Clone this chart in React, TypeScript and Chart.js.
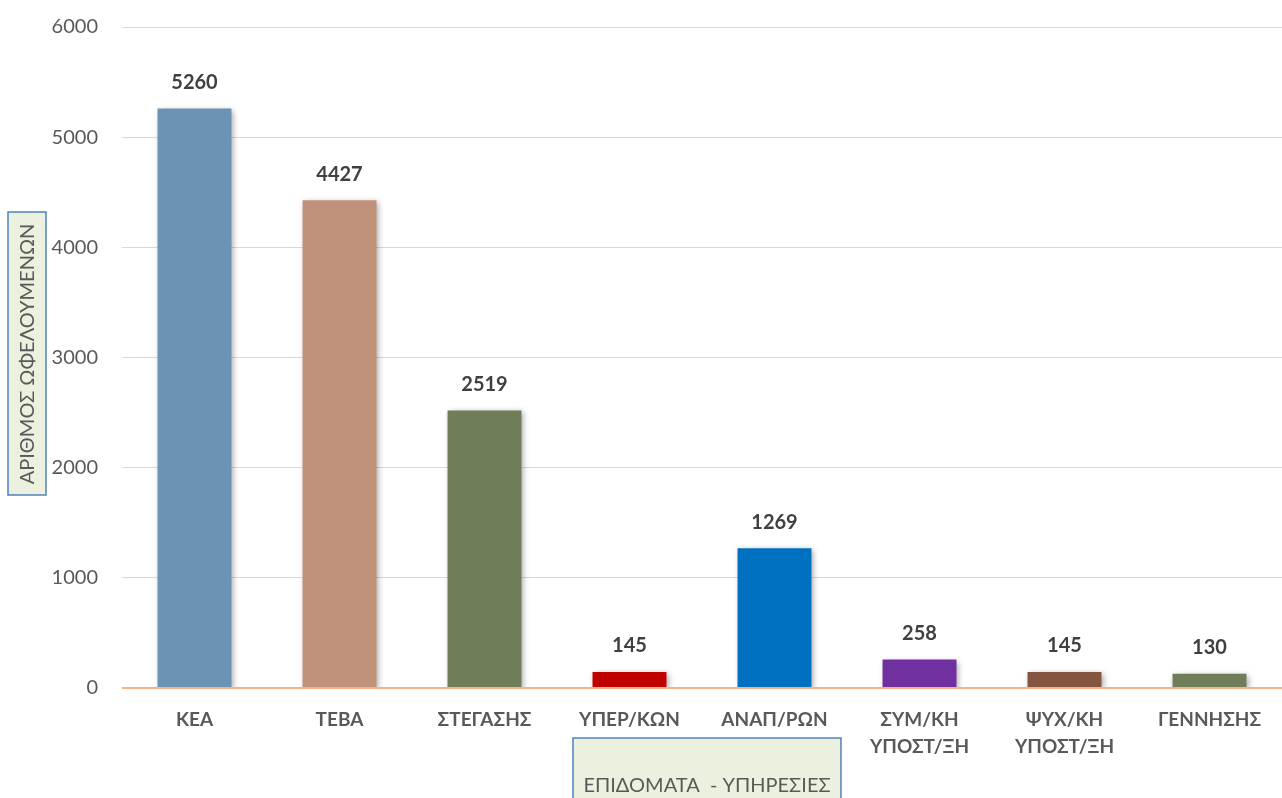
import React, { useEffect, useRef } from "react";
import { Chart, registerables } from "chart.js";

Chart.register(...registerables);

const categories: (string | string[])[] = [
  "ΚΕΑ",
  "ΤΕΒΑ",
  "ΣΤΕΓΑΣΗΣ",
  "ΥΠΕΡ/ΚΩΝ",
  "ΑΝΑΠ/ΡΩΝ",
  ["ΣΥΜ/ΚΗ", "ΥΠΟΣΤ/ΞΗ"],
  ["ΨΥΧ/ΚΗ", "ΥΠΟΣΤ/ΞΗ"],
  "ΓΕΝΝΗΣΗΣ",
];
const values = [5260, 4427, 2519, 145, 1269, 258, 145, 130];
const barColors = [
  "#6a93b6",
  "#c0927c",
  "#6f7d59",
  "#c00000",
  "#0070c0",
  "#7030a0",
  "#84553f",
  "#6f7d59",
];
const yTicks = [0, 1000, 2000, 3000, 4000, 5000, 6000];
const yTitle = "ΑΡΙΘΜΟΣ ΩΦΕΛΟΥΜΕΝΩΝ";
const xTitle = "ΕΠΙΔΟΜΑΤΑ  - ΥΠΗΡΕΣΙΕΣ";

const FONT = "Lato, 'Noto Sans', sans-serif";

export default function App() {
  const ref = useRef<HTMLCanvasElement | null>(null);

  useEffect(() => {
    document.body.style.margin = "0";
    const canvas = ref.current;
    if (!canvas) return;

    const boxesPlugin = {
      id: "titleBoxes",
      afterDraw(chart: any) {
        const ctx = chart.ctx;
        ctx.save();
        // Y title box
        ctx.fillStyle = "#ebf1de";
        ctx.strokeStyle = "#4f81bd";
        ctx.lineWidth = 1.5;
        ctx.fillRect(8, 212, 38, 283);
        ctx.strokeRect(8, 212, 38, 283);
        ctx.fillStyle = "#595959";
        ctx.font = `20px ${FONT}`;
        ctx.textAlign = "center";
        ctx.textBaseline = "middle";
        ctx.save();
        ctx.translate(28, 354);
        ctx.rotate(-Math.PI / 2);
        ctx.fillText(yTitle, 0, 0);
        ctx.restore();
        // X title box
        const cx = 707;
        ctx.fillStyle = "#ebf1de";
        ctx.fillRect(cx - 134, 738, 268, 70);
        ctx.strokeRect(cx - 134, 738, 268, 70);
        ctx.fillStyle = "#595959";
        ctx.font = `20px ${FONT}`;
        ctx.fillText(xTitle, cx, 786);
        ctx.restore();
      },
    };

    const shadowPlugin = {
      id: "barShadow",
      beforeDatasetsDraw(chart: any) {
        const ctx = chart.ctx;
        ctx.save();
        ctx.shadowColor = "rgba(0,0,0,0.35)";
        ctx.shadowBlur = 6;
        ctx.shadowOffsetX = 2;
        ctx.shadowOffsetY = 2;
      },
      afterDatasetsDraw(chart: any) {
        chart.ctx.restore();
      },
    };

    const zeroLinePlugin = {
      id: "zeroLine",
      afterDatasetsDraw(chart: any) {
        const ctx = chart.ctx;
        const y = chart.scales.y.getPixelForValue(0);
        ctx.save();
        ctx.strokeStyle = "#f4b183";
        ctx.lineWidth = 2;
        ctx.beginPath();
        ctx.moveTo(chart.chartArea.left, y);
        ctx.lineTo(chart.chartArea.right, y);
        ctx.stroke();
        ctx.restore();
      },
    };

    const labelsPlugin = {
      id: "valueLabels",
      afterDatasetsDraw(chart: any) {
        const ctx = chart.ctx;
        const meta = chart.getDatasetMeta(0);
        ctx.save();
        ctx.fillStyle = "#404040";
        ctx.font = `bold 20px ${FONT}`;
        ctx.textAlign = "center";
        ctx.textBaseline = "middle";
        meta.data.forEach((bar: any, i: number) => {
          ctx.fillText(String(values[i]), bar.x, bar.y - 26);
        });
        ctx.restore();
      },
    };

    const chart = new Chart(canvas, {
      type: "bar",
      data: {
        labels: categories,
        datasets: [
          {
            data: values,
            backgroundColor: barColors,
            borderWidth: 0,
            barPercentage: 0.51,
            categoryPercentage: 1,
          },
        ],
      },
      options: {
        animation: false,
        responsive: true,
        maintainAspectRatio: false,
        layout: { padding: { top: 27, right: 0, left: 0, bottom: 0 } },
        plugins: {
          legend: { display: false },
          tooltip: { enabled: false },
          title: { display: false },
        },
        scales: {
          x: {
            grid: { display: false, drawTicks: false },
            border: { display: false },
            ticks: {
              color: "#595959",
              font: { family: FONT, size: 19, weight: "bold", lineHeight: 1.45 },
              padding: 18,
              maxRotation: 0,
              autoSkip: false,
            },
            afterFit(scale: any) {
              scale.height = 110;
              scale.paddingLeft = 0;
              scale.paddingRight = 0;
            },
          },
          y: {
            min: 0,
            max: 6000,
            afterBuildTicks(scale: any) {
              scale.ticks = yTicks.map((v) => ({ value: v }));
            },
            grid: { color: "#d9d9d9", drawTicks: false, lineWidth: 1 },
            border: { display: false },
            ticks: {
              color: "#595959",
              font: { family: FONT, size: 20 },
              padding: 24,
              callback: (v: any) => String(v),
            },
            afterFit(scale: any) {
              scale.width = 122;
              scale.paddingTop = 0;
              scale.paddingBottom = 0;
            },
          },
        },
      },
      plugins: [shadowPlugin, zeroLinePlugin, labelsPlugin, boxesPlugin],
    });

    return () => chart.destroy();
  }, []);

  return (
    <div style={{ width: 1282, height: 798, position: "relative" }}>
      <canvas ref={ref} />
    </div>
  );
}
